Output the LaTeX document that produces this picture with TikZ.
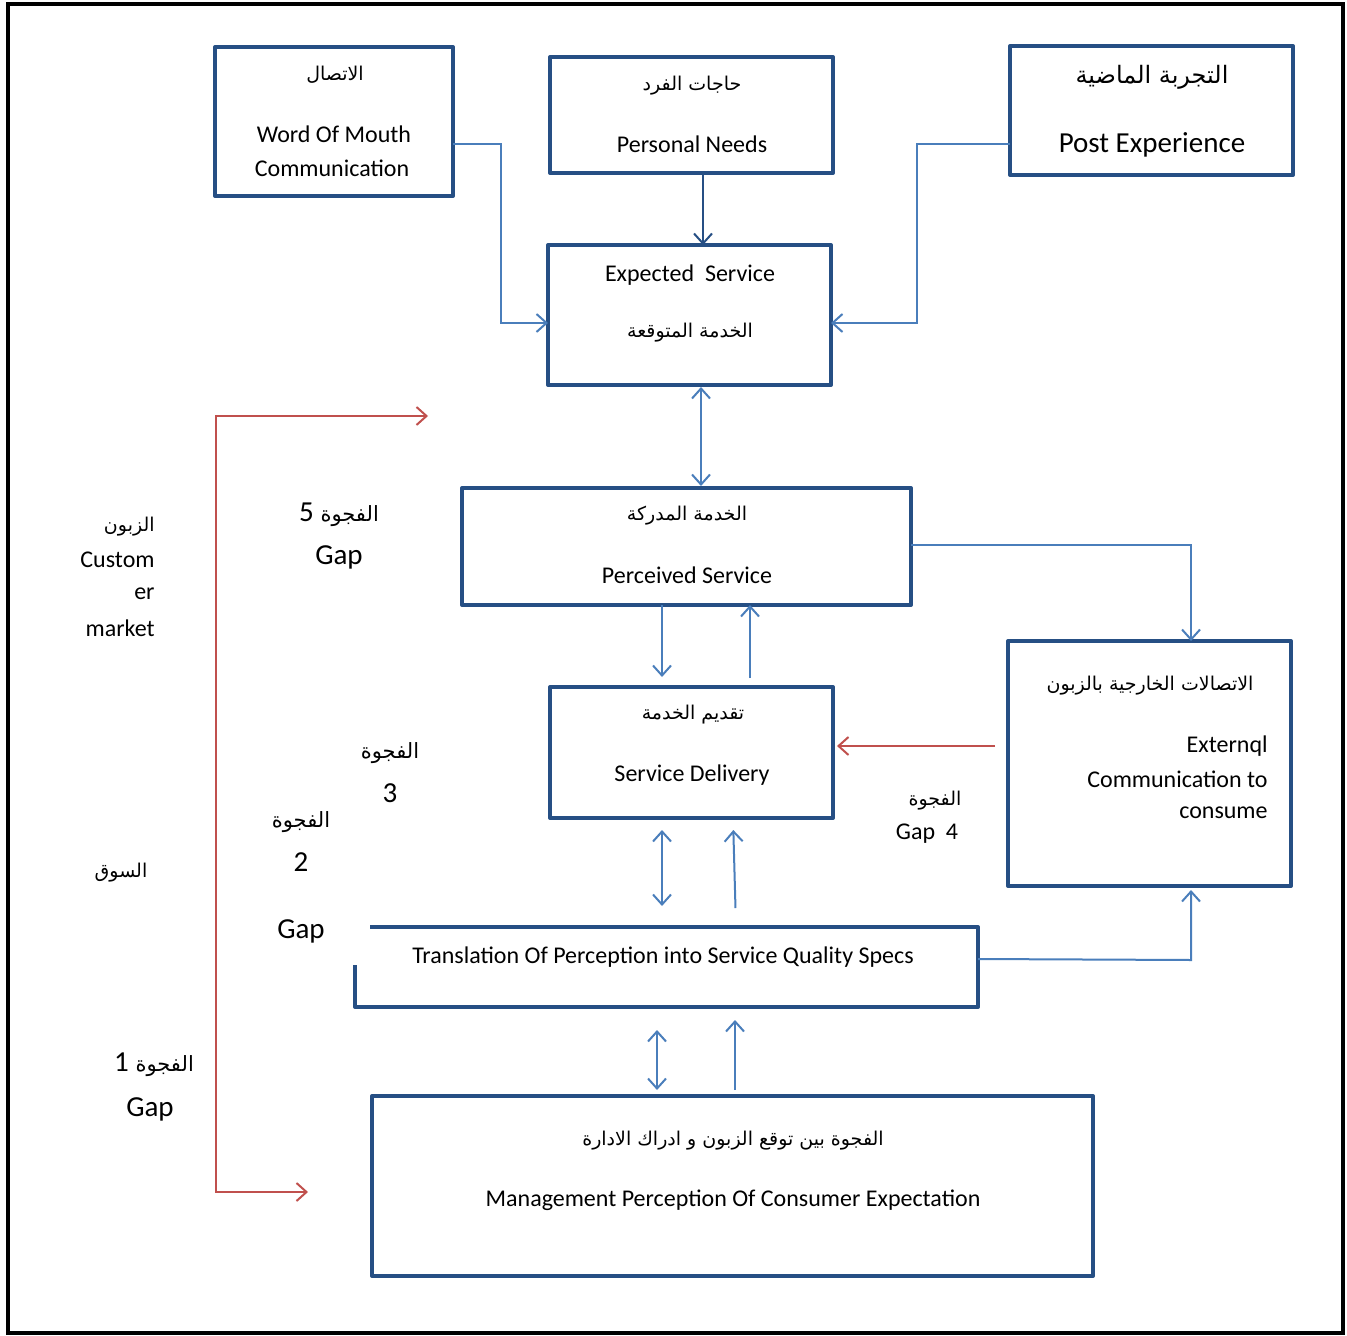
\documentclass[tikz,border=0pt]{standalone}
\usepackage{fontspec}
\setmainfont{Carlito}
\newfontfamily\arabicfont[Script=Arabic]{DejaVu Sans}
\TeXXeTstate=1
\usetikzlibrary{arrows.meta,fit,calc}
\definecolor{boxblue}{HTML}{264F84}
\definecolor{linkblue}{HTML}{4A7EBB}
\definecolor{gapred}{HTML}{C0504D}
\newcommand{\ar}[1]{{\arabicfont\beginR #1\endR}}
\newcommand{\gapnum}[1]{{\rmfamily\fontsize{14.5}{17}\selectfont #1}}
\begin{document}
\begin{tikzpicture}[x=0.5pt,y=-0.5pt,
  box/.style={draw=boxblue,line width=2pt,line join=round,inner sep=0pt,outer sep=0pt},
  conn/.style={draw=linkblue,line width=1pt},
  gapline/.style={draw=gapred,line width=1pt},
  >={Straight Barb[length=5pt,width=9pt]},
  en/.style={font=\fontsize{12}{14}\selectfont,inner sep=0pt,anchor=center},
  enbig/.style={font=\fontsize{14.5}{17}\selectfont,inner sep=0pt,anchor=center},
  ars/.style={font=\fontsize{9.5}{12}\selectfont,inner sep=0pt,anchor=center},
  armid/.style={font=\fontsize{10.5}{13}\selectfont,inner sep=0pt,anchor=center},
  arbig/.style={font=\fontsize{12}{14}\selectfont,inner sep=0pt,anchor=center}]
\useasboundingbox (0,0) rectangle (1347,1336);
% outer frame
\draw[black,line width=2pt] (8,4) rectangle (1343,1333);

% boxes
\node[box,fit={(215,47) (453,196)}] (wom) {};
\node[box,fit={(550,57) (833,173)}] (pn) {};
\node[box,fit={(1010,46) (1293,175)}] (pe) {};
\node[box,fit={(548,245) (831,385)}] (es) {};
\node[box,fit={(462,488) (911,605)}] (ps) {};
\node[box,fit={(550,687) (833,818)}] (sd) {};
\node[box,fit={(1008,641) (1291,886)}] (ec) {};
\node[inner sep=0pt,outer sep=0pt,fit={(355,927) (978,1007)}] (tr) {};
\draw[box] ($(tr.north west)+(15,0)$) -- (tr.north east) -- (tr.south east)
  -- (tr.south west) -- ($(tr.south west)+(0,-42)$);
\node[box,fit={(372,1096) (1093,1276)}] (mg) {};

% box texts
\node[ars] (womar) at (335,75) {\ar{الاتصال}};
\node[en] (wom1) at (334,134) {Word Of Mouth};
\node[en] (wom2) at (332,168) {Communication};
\node[ars] (pnar) at (692,86) {\ar{حاجات الفرد}};
\node[en] (pn1) at (692,144) {Personal Needs};
\node[arbig] (pear) at (1152,77) {\ar{التجربة الماضية}};
\node[enbig] (pe1) at (1152,145) {Post Experience};
\node[en] (es1) at (690,275) {Expected\ \ Service};
\node[ars] (esar) at (690,333) {\ar{الخدمة المتوقعة}};
\node[ars] (psar) at (687,516) {\ar{الخدمة المدركة}};
\node[en] (ps1) at (687,575) {Perceived Service};
\node[ars] (sdar) at (693,715) {\ar{تقديم الخدمة}};
\node[en] (sd1) at (692,775) {Service Delivery};
\node[ars] (ecar) at (1150,686) {\ar{الاتصالات الخارجية بالزبون}};
\node[en,anchor=east] (ec1) at (1268,746) {Externql};
\node[en,anchor=east] (ec2) at (1268,779) {Communication to};
\node[en,anchor=east] (ec3) at (1268,813) {consume};
\node[en] (tr1) at (663,957) {Translation Of Perception into Service Quality Specs};
\node[ars] (mgar) at (733,1141) {\ar{الفجوة بين توقع الزبون و ادراك الادارة}};
\node[en] (mg1) at (733,1200) {Management Perception Of Consumer Expectation};

% side labels
\node[ars,anchor=east] (cmar) at (155,527) {\ar{الزبون}};
\node[en,anchor=east] (cm1) at (155,560) {Custom};
\node[en,anchor=east] (cm2) at (155,594) {er};
\node[en,anchor=east] (cm3) at (155,628) {market};
\node[ars] (mkar) at (121,873) {\ar{السوق}};
\node[armid] (g5ar) at (339,515) {\ar{الفجوة \gapnum{5}}};
\node[enbig] (g5) at (339,557) {Gap};
\node[armid] (g3ar) at (390,753) {\ar{الفجوة}};
\node[enbig] (g3) at (390,793) {3};
\node[armid] (g2ar) at (301,822) {\ar{الفجوة}};
\node[enbig] (g2) at (301,862) {2};
\node[enbig] (g2b) at (301,931) {Gap};
\node[armid] (g1ar) at (154,1065) {\ar{الفجوة \gapnum{1}}};
\node[enbig] (g1) at (150,1109) {Gap};
\node[ars] (g4ar) at (935,801) {\ar{الفجوة}};
\node[en] (g4) at (927,834) {Gap\ \ 4};

% connectors
\draw[conn,->] (wom.east |- 0,144) -| (501,323) -- (es.west |- 0,323);
\draw[conn,->] (pe.west |- 0,144) -| (917,323) -- (es.east |- 0,323);
\draw[draw=boxblue,line width=1pt,->] (703,0 |- pn.south) -- (703,0 |- es.north);
\draw[conn,<->,shorten <=1pt,shorten >=1pt] (701,0 |- es.south) -- (701,0 |- ps.north);
\draw[conn,->] (ps.east |- 0,545) -| (1191,0 |- ec.north);
\draw[conn,->,shorten >=5pt] (662,0 |- ps.south) -- (662,0 |- sd.north);
\draw[conn,->,shorten <=4.5pt] (750,0 |- sd.north) -- (750,0 |- ps.south);
\draw[gapline,->,shorten <=6.5pt,shorten >=2pt] (ec.west |- 0,746) -- (sd.east |- 0,746);
\draw[conn,<->,shorten <=6pt,shorten >=10.5pt] (662,0 |- sd.south) -- (662,0 |- tr.north);
\draw[conn,->,shorten <=9.5pt,shorten >=6pt] (736,0 |- tr.north) -- (733,0 |- sd.south);
\draw[conn,->,shorten >=2pt] (tr.east |- 0,959) -- (1191,960) -- (1191,0 |- ec.south);
\draw[conn,<->,shorten <=3pt,shorten >=11.5pt] (657,0 |- mg.north) -- (657,0 |- tr.south);
\draw[conn,->,shorten <=3pt,shorten >=6.5pt] (735,0 |- mg.north) -- (735,0 |- tr.south);

% gap bracket on the left
\coordinate (rtop) at (216,416);
\coordinate (rbot) at (216,1192);
\coordinate (gtop) at (428,416);
\coordinate (gbot) at (308,1192);
\draw[gapline,->] (rbot) -- (rtop) -- (gtop);
\draw[gapline,->] (rtop) -- (rbot) -- (gbot);
\end{tikzpicture}
\end{document}
